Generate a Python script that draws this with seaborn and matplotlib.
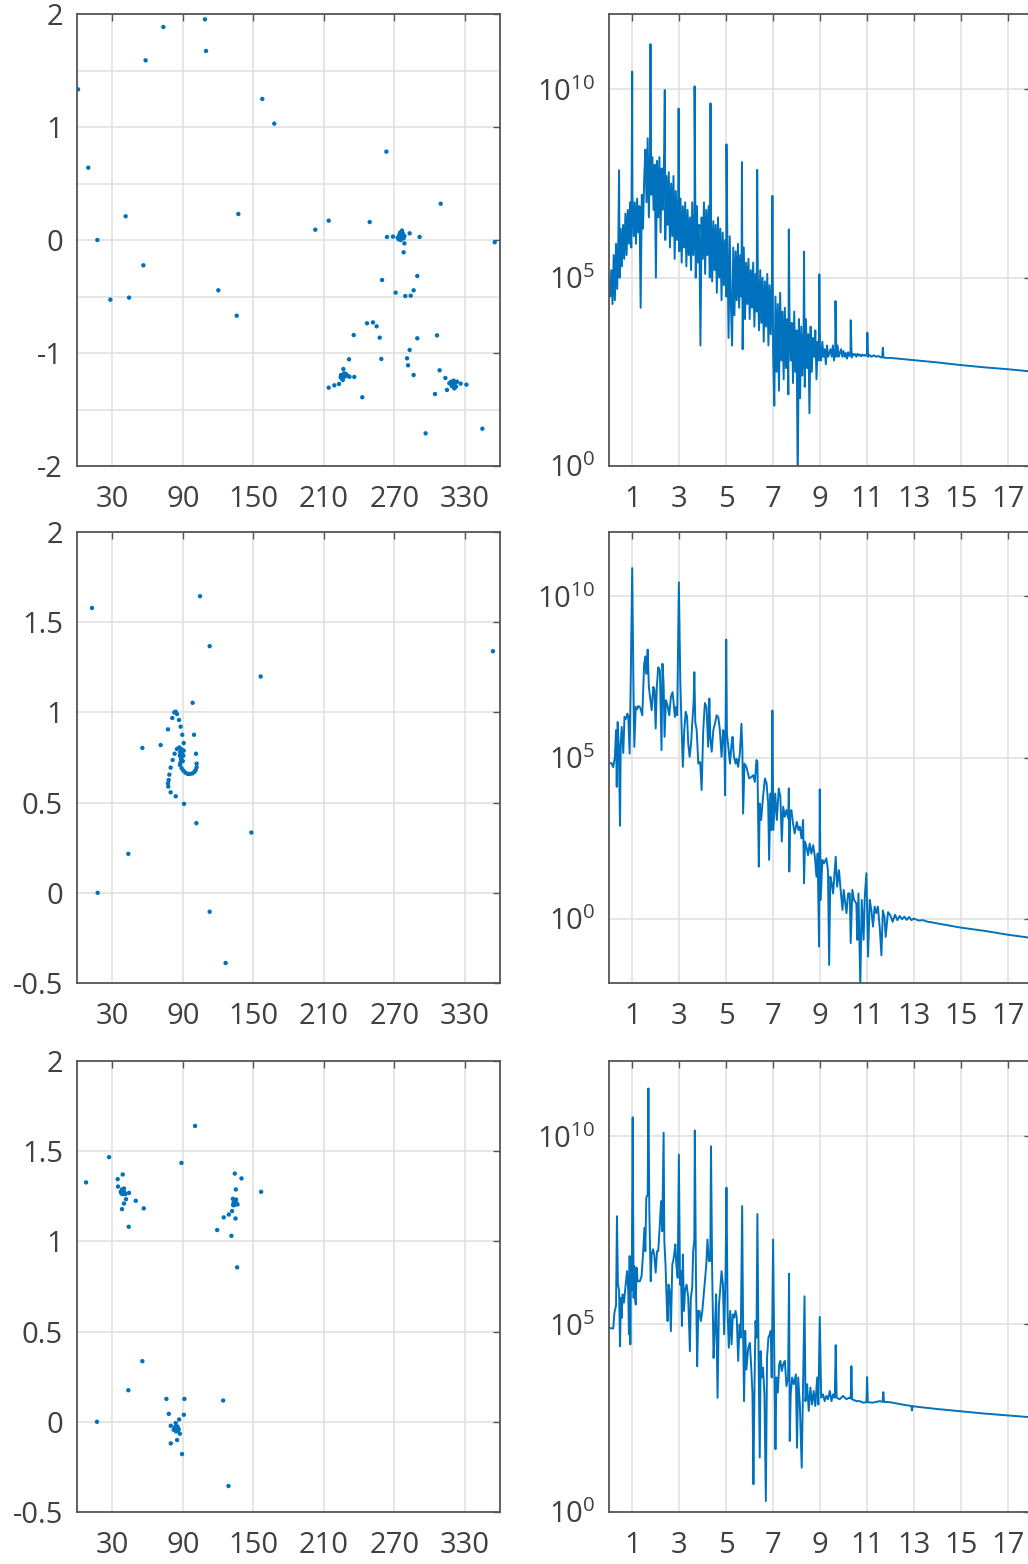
import numpy as np
import pandas as pd
import matplotlib
matplotlib.use("Agg")
import matplotlib.pyplot as plt
import seaborn as sns
from matplotlib.ticker import FixedLocator, FixedFormatter, NullLocator

BLUE = "#0072BD"

# --- left column: scatter points (angle [deg], value) ---
ang1 = [0.9, 9.6, 17.3, 28.4, 41.4, 44.3, 56.5, 58.4, 73.5, 108.9, 109.8, 120.3, 135.9, 137.3,
        157.7, 167.9, 202.8, 214.2, 214.2, 219.0, 223.0, 226.7, 224.7, 225.3, 226.2, 227.6,
        229.0, 230.5, 231.9, 227.3, 224.4, 231.5, 235.5, 236.0, 242.8, 246.8, 251.9, 249.1,
        255.0, 257.6, 259.0, 259.6, 263.3, 263.8, 268.9, 271.2, 296.7, 272.9, 274.3, 274.9,
        275.7, 276.6, 277.2, 278.0, 278.6, 273.8, 275.5, 278.6, 278.0, 279.4, 280.9, 281.7,
        283.1, 283.1, 284.0, 286.5, 286.5, 289.6, 289.6, 291.6, 304.7, 306.4, 308.6, 309.5,
        313.5, 314.9, 316.9, 318.3, 319.7, 320.6, 321.7, 322.6, 321.1, 318.9, 323.4, 326.5,
        331.4, 345.0, 355.5]
val1 = [1.333, 0.64, 0.0, -0.528, 0.21, -0.51, -0.224, 1.59, 1.885, 1.953, 1.673, -0.445, -0.67, 0.23,
        1.248, 1.03, 0.091, 0.171, -1.307, -1.286, -1.274, -1.142, -1.195, -1.224, -1.239, -1.21,
        -1.186, -1.203, -1.21, -1.18, -1.215, -1.056, -0.841, -1.212, -1.392, -0.737, -0.729, 0.159,
        -0.764, -0.864, -1.053, -0.354, 0.782, 0.027, 0.03, -0.466, -1.711, 0.021, 0.044, 0.065,
        0.029, 0.083, 0.059, 0.015, 0.035, 0.006, 0.0, -0.03, -0.109, -0.496, -1.047, -1.109,
        0.059, -0.973, -0.493, -1.195, -0.445, -0.319, -0.87, 0.027, -1.363, -0.844, -1.153, 0.321,
        -1.221, -1.327, -1.268, -1.254, -1.283, -1.245, -1.268, -1.298, -1.313, -1.292, -1.254, -1.271,
        -1.28, -1.67, -0.02]

ang2 = [12.8, 17.6, 43.7, 55.6, 71.2, 77.4, 81.1, 82.8, 84.0, 85.1, 86.8, 88.2, 89.6, 90.8,
        98.4, 99.6, 101.3, 101.8, 104.7, 112.9, 112.9, 126.5, 148.4, 156.3, 101.6, 91.1, 84.0,
        79.7, 77.7, 77.4, 78.0, 78.6, 79.7, 81.4, 83.1, 85.1, 87.1, 89.1, 90.8, 87.5, 88.5,
        89.5, 90.0, 88.0, 89.0, 90.5, 87.8, 87.7, 89.1, 90.5, 92.2, 94.2, 96.2, 98.2, 99.9,
        101.0, 101.8, 354.0]
val2 = [1.579, 0.0, 0.216, 0.803, 0.819, 0.906, 0.969, 1.0, 1.004, 0.991, 0.958, 0.921, 0.876, 0.83,
        1.053, 0.876, 0.771, 0.716, 1.644, 1.367, -0.105, -0.389, 0.334, 1.199, 0.386, 0.493, 0.535,
        0.557, 0.589, 0.607, 0.625, 0.655, 0.694, 0.736, 0.771, 0.797, 0.806, 0.795, 0.788, 0.76, 0.74,
        0.77, 0.73, 0.72, 0.75, 0.76, 0.78, 0.708, 0.69, 0.677, 0.666, 0.659, 0.659, 0.662, 0.67,
        0.681, 0.696, 1.339]

ang3 = [7.7, 17.0, 27.3, 34.6, 34.9, 38.9, 38.3, 37.2, 38.3, 39.5, 40.6, 38.9, 40.0, 37.8, 41.2,
        40.0, 41.7, 44.3, 44.0, 50.0, 56.8, 43.7, 55.6, 76.1, 78.1, 79.8, 79.8, 82.3, 83.2, 84.0,
        84.9, 86.0, 84.3, 85.5, 86.6, 86.9, 87.5, 85.2, 89.4, 90.9, 91.4, 88.9, 100.5, 119.3,
        124.4, 124.9, 128.9, 129.2, 131.4, 132.0, 132.6, 133.2, 133.7, 134.3, 134.9, 135.4, 136.0,
        136.6, 132.9, 134.3, 135.2, 134.9, 136.3, 140.0, 156.7]
val3 = [1.327, 0.0, 1.467, 1.345, 1.304, 1.371, 1.179, 1.275, 1.288, 1.28, 1.269, 1.262, 1.293, 1.266, 1.262,
        1.21, 1.234, 1.269, 1.081, 1.225, 1.183, 0.175, 0.336, 0.127, 0.044, -0.022, -0.12, -0.044, -0.03, -0.007,
        -0.035, -0.048, -0.053, -0.026, -0.041, 0.013, -0.066, -0.101, -0.179, 0.039, 0.127, 1.435, 1.64, 1.063,
        0.118, 1.133, -0.356, 1.149, 1.031, 1.168, 1.236, 1.214, 1.201, 1.21, 1.22, 1.232, 1.207,
        1.205, 1.201, 1.376, 1.288, 1.127, 0.856, 1.349, 1.275]

# --- right column: spectra, log10 of power vs frequency ---
# row 1: dense band sampled every 0.05, plus narrow peaks and the smooth tail
freq1 = np.round(np.arange(0, 11.001, 0.05), 2)
lev1 = [4.9, 4.5, 5.2, 4.3, 5.6, 4.4, 5.9, 4.7, 6.1, 5.0,
        6.3, 5.3, 6.4, 5.5, 6.7, 5.6, 6.8, 5.9, 7.0, 5.8,
        7.2, 6.1, 7.0, 5.9, 7.1, 6.2, 6.9, 4.2, 7.2, 6.3,
        7.6, 8.4, 7.0, 8.7, 6.6, 8.3, 7.2, 8.2, 6.8, 8.0,
        5.0, 8.1, 6.6, 8.2, 6.2, 7.9, 6.8, 8.3, 6.0, 7.7,
        6.4, 7.8, 5.8, 7.5, 6.1, 7.7, 5.5, 7.3, 6.0, 7.1,
        5.7, 7.1, 5.4, 6.9, 5.8, 7.0, 5.3, 6.8, 5.6, 6.6,
        5.2, 7.0, 5.6, 6.7, 5.0, 6.9, 5.4, 6.4, 3.2, 6.6,
        5.5, 7.0, 5.1, 6.8, 5.6, 6.9, 5.0, 6.6, 4.9, 6.5,
        5.2, 6.4, 4.6, 6.6, 5.0, 6.3, 4.4, 6.2, 4.8, 6.0,
        4.5, 5.9, 3.4, 6.1, 4.3, 3.2, 5.8, 4.0, 5.7, 4.4,
        5.9, 4.2, 5.6, 4.5, 3.1, 5.8, 3.9, 5.4, 4.3, 5.5,
        3.9, 5.2, 4.2, 5.4, 3.7, 5.1, 4.1, 5.0, 3.6, 5.2,
        3.8, 5.0, 3.3, 4.9, 3.7, 5.1, 3.2, 4.8, 3.5, 4.9,
        3.0, 1.6, 4.5, 2.5, 4.3, 2.0, 4.6, 2.8, 4.1, 2.3,
        4.2, 2.6, 3.9, 1.9, 4.0, 2.8, 3.8, 2.2, 4.1, 2.5,
        3.6, -0.5, 3.9, 1.8, 3.7, 2.4, 3.6, 2.1, 3.9, 2.6,
        3.5, 1.4, 3.7, 2.5, 3.4, 2.9, 3.6, 2.3, 3.3, 2.8,
        3.2, 2.8, 3.3, 2.9, 3.1, 2.7, 3.2, 2.9, 3.0, 3.1,
        2.9, 3.2, 2.8, 3.1, 2.9, 3.2, 2.9, 3.0, 3.1, 2.9,
        3.05, 2.9, 3.0, 2.85, 3.02, 2.92, 3.0, 2.88, 2.98, 2.95,
        2.97, 2.9, 2.98, 2.93, 2.96, 2.91, 2.96, 2.93, 2.95, 2.92,
        2.95]
peak_f1 = [0.43, 0.99, 1.77, 2.38, 2.97, 3.65, 4.33, 5.01, 5.67, 6.32, 6.97, 7.67, 8.32, 8.97,
           9.66, 10.31, 11.02, 11.68]
peak_p1 = [7.85, 10.47, 11.2, 9.98, 9.49, 10.08, 9.63, 8.54, 8.07, 7.86, 7.17, 6.28, 5.69, 5.09,
           4.38, 3.87, 3.54, 3.14]
tail_f1 = [11.05, 11.1, 11.2, 11.3, 11.4, 11.5, 11.6, 11.65, 11.71, 11.8, 12.0, 12.5, 13.0,
           14.0, 15.0, 16.0, 17.0, 18.0]
tail_p1 = [2.9, 2.95, 2.9, 2.94, 2.9, 2.92, 2.88, 2.9, 2.88, 2.87, 2.87, 2.84, 2.81,
           2.75, 2.68, 2.62, 2.57, 2.51]

freq2 = [0.0, 0.1, 0.18, 0.25, 0.3, 0.33, 0.37, 0.42, 0.47, 0.5, 0.54, 0.61, 0.66, 0.72, 0.78, 0.82,
         0.88, 0.93, 0.99, 1.04, 1.08, 1.14, 1.2, 1.25, 1.33, 1.42, 1.5, 1.56, 1.6, 1.65, 1.7, 1.75,
         1.82, 1.89, 1.94, 1.99, 2.04, 2.1, 2.17, 2.24, 2.28, 2.33, 2.37, 2.43, 2.5, 2.57, 2.64, 2.71,
         2.76, 2.81, 2.86, 2.91, 2.98, 3.04, 3.1, 3.15, 3.21, 3.27, 3.33, 3.38, 3.44, 3.5, 3.55, 3.61,
         3.64, 3.68, 3.74, 3.81, 3.89, 3.95, 4.02, 4.09, 4.16, 4.23, 4.28, 4.32, 4.38, 4.45, 4.52, 4.59,
         4.66, 4.73, 4.8, 4.87, 4.92, 4.95, 5.0, 5.03, 5.09, 5.16, 5.23, 5.27, 5.33, 5.4, 5.44, 5.51,
         5.58, 5.65, 5.69, 5.72, 5.78, 5.86, 5.98, 6.08, 6.15, 6.22, 6.29, 6.33, 6.39, 6.43, 6.49, 6.57,
         6.65, 6.72, 6.79, 6.83, 6.89, 6.93, 6.97, 7.01, 7.09, 7.16, 7.24, 7.31, 7.37, 7.43, 7.5, 7.57,
         7.65, 7.67, 7.69, 7.73, 7.78, 7.85, 7.92, 8.01, 8.08, 8.14, 8.21, 8.28, 8.32, 8.36, 8.42, 8.49,
         8.56, 8.63, 8.71, 8.78, 8.85, 8.9, 8.96, 8.99, 9.03, 9.1, 9.17, 9.27, 9.34, 9.39, 9.44, 9.5,
         9.56, 9.67, 9.73, 9.81, 9.88, 9.96, 10.01, 10.13, 10.2, 10.27, 10.31, 10.38, 10.45, 10.55, 10.59, 10.64,
         10.72, 10.78, 10.86, 10.91, 10.98, 11.05, 11.12, 11.19, 11.26, 11.33, 11.4, 11.47, 11.55, 11.62, 11.68, 11.75,
         11.8, 11.9, 12.0, 12.1, 12.2, 12.3, 12.4, 12.5, 12.6, 12.7, 12.8, 12.9, 13.0, 13.2, 13.4, 13.6,
         13.8, 14.0, 15.0, 16.0, 17.0, 18.0]
pow2 = [4.81, 4.83, 4.7, 5.0, 5.85, 4.09, 6.1, 5.3, 2.88, 5.4, 5.95, 5.14, 6.26, 6.2, 6.36, 6.3,
        5.12, 7.6, 10.88, 7.4, 5.33, 6.57, 6.5, 6.6, 6.55, 6.31, 7.91, 8.14, 7.6, 8.35, 7.19, 6.88,
        6.47, 7.19, 7.1, 5.9, 7.2, 7.8, 7.7, 5.23, 7.91, 7.29, 5.64, 6.78, 6.6, 6.31, 6.88, 7.03,
        6.67, 6.26, 6.57, 6.31, 10.44, 7.4, 5.85, 4.71, 5.85, 6.42, 6.27, 5.43, 5.02, 5.43, 6.05, 6.73,
        7.65, 6.1, 5.85, 4.81, 4.86, 3.99, 5.85, 6.69, 6.57, 5.33, 6.83, 5.64, 5.18, 5.85, 6.05, 6.31,
        6.26, 5.85, 5.02, 5.85, 5.64, 3.83, 8.66, 5.74, 5.33, 4.81, 5.43, 5.64, 5.02, 4.81, 4.96, 4.71,
        5.12, 6.05, 5.22, 3.26, 4.81, 4.71, 4.35, 4.4, 4.45, 4.24, 4.92, 4.87, 1.61, 3.57, 3.06, 3.78,
        4.35, 4.2, 3.57, 1.82, 3.88, 2.75, 6.46, 2.75, 3.88, 3.06, 4.04, 3.78, 2.39, 3.47, 3.16, 3.37,
        3.1, 4.04, 1.46, 3.26, 3.37, 2.95, 2.64, 3.0, 2.75, 2.85, 2.49, 3.06, 1.1, 2.39, 2.23, 1.97,
        2.33, 2.02, 2.28, 1.92, 1.3, 2.02, -0.87, 4.01, 0.58, 1.82, 1.71, 1.87, 1.5, -1.44, 1.3, 1.1,
        0.78, 1.92, 0.99, 1.5, 0.89, 0.27, 0.89, 0.17, 0.78, 0.78, -0.76, 0.89, 0.58, 0.47, -0.66, 0.78,
        -2.1, 0.58, -0.66, 0.68, 1.41, -1.18, 0.58, 0.27, -0.25, 0.37, 0.17, 0.37, -0.3, -1.14, 0.25, 0.05,
        -0.57, 0.2, 0.1, -0.1, 0.12, -0.05, 0.08, -0.02, 0.06, -0.04, 0.05, -0.05, 0.0, -0.06, -0.05, -0.1,
        -0.12, -0.15, -0.28, -0.38, -0.5, -0.6]

freq3 = [0.0, 0.18, 0.23, 0.3, 0.34, 0.38, 0.43, 0.47, 0.51, 0.54, 0.58, 0.64, 0.71, 0.77, 0.82, 0.85,
         0.88, 0.91, 0.94, 0.97, 1.01, 1.05, 1.08, 1.11, 1.14, 1.18, 1.22, 1.32, 1.39, 1.46, 1.51, 1.55,
         1.59, 1.65, 1.68, 1.72, 1.78, 1.82, 1.88, 1.93, 1.99, 2.05, 2.1, 2.16, 2.22, 2.27, 2.33, 2.36,
         2.41, 2.46, 2.5, 2.54, 2.59, 2.64, 2.7, 2.74, 2.78, 2.83, 2.87, 2.93, 2.98, 3.03, 3.07, 3.11,
         3.15, 3.2, 3.24, 3.31, 3.38, 3.45, 3.49, 3.55, 3.59, 3.64, 3.66, 3.71, 3.76, 3.81, 3.86, 3.92,
         3.98, 4.03, 4.09, 4.15, 4.2, 4.26, 4.32, 4.35, 4.4, 4.46, 4.52, 4.57, 4.63, 4.69, 4.74, 4.8,
         4.86, 4.91, 4.97, 5.01, 5.06, 5.11, 5.17, 5.23, 5.28, 5.34, 5.4, 5.45, 5.51, 5.57, 5.62, 5.68,
         5.72, 5.76, 5.81, 5.86, 5.94, 6.01, 6.06, 6.12, 6.16, 6.21, 6.25, 6.29, 6.33, 6.38, 6.43, 6.47,
         6.52, 6.57, 6.63, 6.69, 6.74, 6.8, 6.86, 6.9, 6.94, 7.0, 7.06, 7.1, 7.14, 7.2, 7.26, 7.31,
         7.37, 7.43, 7.5, 7.57, 7.64, 7.68, 7.71, 7.75, 7.81, 7.88, 7.97, 8.02, 8.07, 8.14, 8.22, 8.28,
         8.34, 8.38, 8.45, 8.52, 8.59, 8.66, 8.73, 8.8, 8.88, 8.93, 8.99, 9.05, 9.13, 9.2, 9.27, 9.34,
         9.42, 9.49, 9.56, 9.63, 9.67, 9.71, 9.84, 9.98, 10.13, 10.24, 10.31, 10.34, 10.37, 10.55, 10.69, 10.84,
         10.98, 11.01, 11.04, 11.26, 11.55, 11.67, 11.7, 11.73, 12.0, 12.5, 12.9, 12.92, 12.95, 13.0, 14.0, 15.0,
         16.0, 17.0, 18.0]
pow3 = [4.9, 4.88, 5.3, 5.5, 7.87, 6.05, 5.9, 4.41, 5.7, 5.17, 5.79, 5.57, 6.05, 6.41, 5.9, 4.73,
        6.81, 4.46, 6.58, 5.9, 10.5, 5.7, 6.54, 5.7, 5.52, 6.5, 6.14, 6.14, 6.28, 6.94, 7.56, 6.94,
        8.36, 8.45, 11.27, 8.0, 6.14, 6.85, 6.99, 6.85, 6.37, 6.94, 6.94, 7.56, 8.27, 7.47, 10.09, 7.21,
        6.59, 5.61, 5.08, 6.05, 5.88, 4.81, 6.59, 6.68, 6.85, 7.12, 6.59, 6.23, 9.51, 6.05, 6.41, 4.95,
        6.85, 5.35, 5.88, 6.05, 5.7, 4.28, 5.7, 5.97, 6.94, 7.25, 10.15, 6.23, 3.88, 5.35, 5.35, 5.08,
        5.35, 5.7, 6.14, 6.59, 7.25, 6.68, 6.68, 9.73, 6.41, 4.1, 4.97, 5.79, 3.04, 5.52, 5.88, 6.41,
        6.05, 4.73, 6.32, 8.63, 5.35, 4.37, 5.35, 4.46, 5.26, 5.17, 5.35, 5.17, 4.02, 4.99, 4.64, 8.14,
        4.82, 2.95, 4.82, 3.79, 4.37, 4.5, 3.93, 3.13, 0.74, 3.58, 5.08, 4.64, 7.93, 4.1, 1.45, 4.28,
        3.58, 3.84, 3.13, 0.29, 4.1, 4.64, 4.73, 4.82, 3.58, 7.25, 3.58, 1.67, 3.58, 3.18, 3.93, 4.02,
        3.75, 3.93, 4.02, 3.35, 3.58, 6.34, 1.89, 3.13, 3.58, 3.4, 3.66, 1.71, 3.58, 2.86, 1.18, 3.4,
        5.74, 2.95, 3.4, 2.69, 3.31, 2.86, 3.22, 2.82, 3.58, 2.86, 5.19, 3.04, 3.13, 2.95, 3.09, 3.0,
        3.22, 2.95, 3.13, 3.04, 4.44, 3.04, 3.0, 3.09, 3.0, 3.04, 3.02, 3.88, 3.0, 2.95, 2.95, 2.91,
        2.92, 3.59, 2.92, 2.91, 2.95, 2.93, 3.19, 2.93, 2.92, 2.86, 2.82, 2.7, 2.82, 2.81, 2.74, 2.68,
        2.62, 2.57, 2.52]

x_ticks_left = [30, 90, 150, 210, 270, 330]
x_ticks_right = [1, 3, 5, 7, 9, 11, 13, 15, 17]

sns.set_theme(style="white")
plt.rcParams["font.family"] = ["Open Sans", "DejaVu Sans"]
plt.rcParams["mathtext.fontset"] = "custom"
plt.rcParams["mathtext.rm"] = "Open Sans"
plt.rcParams["axes.unicode_minus"] = False

fig = plt.figure(figsize=(10.28, 15.64), dpi=100)
W, H = 1028.0, 1564.0
rows = [(14, 466), (532, 983), (1061, 1512)]

SPINE = "#555555"
GRID = "#e2e2e2"
TXT = "#404040"


def style(ax):
    for s in ax.spines.values():
        s.set_color(SPINE)
        s.set_linewidth(1.3)
    ax.grid(True, which="both", color=GRID, linewidth=1.2)
    ax.set_axisbelow(True)
    ax.tick_params(which="major", direction="in", length=5, width=1, color=SPINE,
                   top=True, right=True, labelsize=21, labelcolor=TXT)
    ax.tick_params(axis="x", pad=14)
    ax.tick_params(axis="y", pad=10)
    ax.tick_params(which="minor", length=0)
    ax.set_xlabel("")
    ax.set_ylabel("")


scatter_sets = [(ang1, val1), (ang2, val2), (ang3, val3)]
ylims_left = [(-2, 2), (-0.5, 2), (-0.5, 2)]
yt_left = [[-2, -1, 0, 1, 2], [-0.5, 0, 0.5, 1, 1.5, 2], [-0.5, 0, 0.5, 1, 1.5, 2]]

for i, ((top, bot), (a, v)) in enumerate(zip(rows, scatter_sets)):
    ax = fig.add_axes([77 / W, 1 - bot / H, 423 / W, (bot - top) / H])
    df = pd.DataFrame({"angle": a, "value": v})
    sns.scatterplot(data=df, x="angle", y="value", ax=ax, color=BLUE, s=10,
                    linewidth=0, edgecolor="none")
    ax.set_xlim(0, 360)
    ax.set_ylim(*ylims_left[i])
    ax.xaxis.set_major_locator(FixedLocator(x_ticks_left))
    ax.xaxis.set_major_formatter(FixedFormatter([str(t) for t in x_ticks_left]))
    yt = yt_left[i]
    ax.yaxis.set_major_locator(FixedLocator(yt))
    ax.yaxis.set_major_formatter(FixedFormatter([f"{t:g}" for t in yt]))
    if i == 0:
        ax.yaxis.set_minor_locator(FixedLocator([-1.5, -0.5, 0.5, 1.5]))
    else:
        ax.yaxis.set_minor_locator(NullLocator())
    ax.xaxis.set_minor_locator(NullLocator())
    style(ax)

# assemble spectra tables
spec1 = pd.DataFrame({"f": list(freq1) + peak_f1 + tail_f1,
                      "lp": lev1 + peak_p1 + tail_p1})
spec1 = spec1.sort_values("f", kind="mergesort")
spec2 = pd.DataFrame({"f": freq2, "lp": pow2})
spec3 = pd.DataFrame({"f": freq3, "lp": pow3})
spectra = [spec1, spec2, spec3]
ylims_right = [(1e0, 1e12), (1e-2, 1e12), (1e0, 1e12)]

for i, ((top, bot), sp) in enumerate(zip(rows, spectra)):
    ax = fig.add_axes([609 / W, 1 - bot / H, 422 / W, (bot - top) / H])
    sp = sp.assign(p=10.0 ** sp["lp"])
    sns.lineplot(data=sp, x="f", y="p", ax=ax, color=BLUE, linewidth=1.4,
                 estimator=None, sort=False)
    ax.set_yscale("log")
    ax.set_xlim(0, 18)
    ax.set_ylim(*ylims_right[i])
    ax.xaxis.set_major_locator(FixedLocator(x_ticks_right))
    ax.xaxis.set_major_formatter(FixedFormatter([str(t) for t in x_ticks_right]))
    ax.xaxis.set_minor_locator(NullLocator())
    ax.yaxis.set_major_locator(FixedLocator([1e0, 1e5, 1e10]))
    ax.yaxis.set_major_formatter(FixedFormatter([r"$\mathregular{10^{0}}$",
                                                 r"$\mathregular{10^{5}}$",
                                                 r"$\mathregular{10^{10}}$"]))
    ax.yaxis.set_minor_locator(NullLocator())
    style(ax)

fig.savefig("out.png", dpi=100, facecolor="white")
